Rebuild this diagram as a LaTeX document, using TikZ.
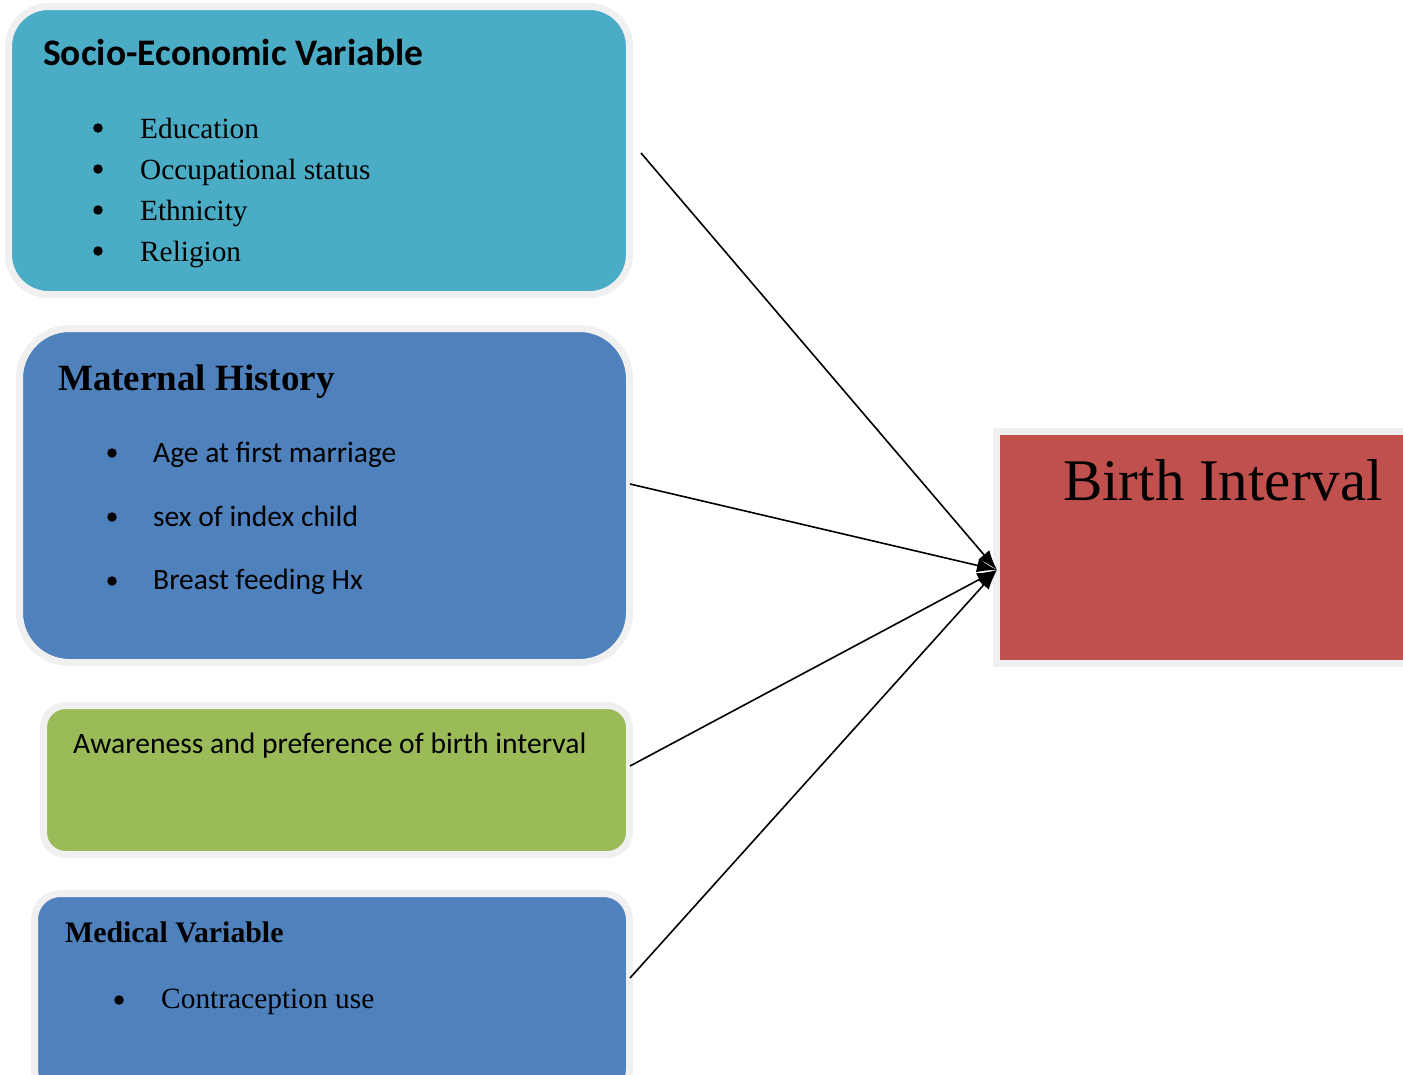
\documentclass[tikz,border=0pt]{standalone}
\usepackage{fontspec}
\setmainfont{Liberation Serif}
\newfontfamily\calibri{Carlito}
\usetikzlibrary{arrows.meta}

\definecolor{sociocol}{HTML}{4BACC6}
\definecolor{bluecol}{HTML}{4F81BD}
\definecolor{greencol}{HTML}{9BBB59}
\definecolor{redcol}{HTML}{C0504D}
\definecolor{rimcol}{HTML}{F0F0F0}

\tikzset{
  varbox/.style={draw=rimcol, line width=7pt, inner sep=0pt},
  txt/.style={anchor=base west, inner sep=0pt},
  dot/.style={circle, fill=black, inner sep=0pt, minimum size=9.5pt},
  link/.style={line width=1.6pt, -{Latex[length=20pt,width=14pt]}}
}

\begin{document}
\begin{tikzpicture}[x=1pt,y=-1pt]
  \useasboundingbox (0,0) rectangle (1403,1074);

  % boxes
  \node[varbox, fill=sociocol, rounded corners=40pt, minimum width=621pt, minimum height=288pt] (socio) at (319,150.5) {};
  \node[varbox, fill=bluecol, rounded corners=50pt, minimum width=610pt, minimum height=334pt] (maternal) at (324.5,495.5) {};
  \node[varbox, fill=greencol, rounded corners=22pt, minimum width=586pt, minimum height=149pt] (aware) at (336.5,780) {};
  \node[varbox, fill=bluecol, rounded corners=26pt, minimum width=595pt, minimum height=202pt] (medical) at (332,994.5) {};
  \node[varbox, fill=redcol, minimum width=414pt, minimum height=232pt] (birth) at (1203.5,547.5) {};

  % socio-economic
  \node[txt] (sociotitle) at (43,65) {\calibri\bfseries\fontsize{37.5}{42}\selectfont Socio-Economic Variable};
  \foreach \item [count=\i] in {Education, Occupational status, Ethnicity, Religion} {
    \node[dot] (sb\i) at (98,87+41*\i) {};
    \node[txt] (si\i) at (140,97+41*\i) {\fontsize{29.3}{34}\selectfont \item};
  }

  % maternal history
  \node[txt] (mattitle) at (58,390) {\bfseries\fontsize{37}{42}\selectfont Maternal History};
  \foreach \item [count=\i] in {Age at first marriage, sex of index child, Breast feeding Hx} {
    \node[dot] (mb\i) at (112,389+64*\i) {};
    \node[txt] (mi\i) at (153,399+63.5*\i) {\calibri\fontsize{29.5}{34}\selectfont \item};
  }

  % awareness
  \node[txt] (awaretxt) at (73,753) {\calibri\fontsize{29.6}{34}\selectfont Awareness and preference of birth interval};

  % medical
  \node[txt] (medtitle) at (65,942) {\bfseries\fontsize{29.8}{34}\selectfont Medical Variable};
  \node[dot] (medb) at (119,1000) {};
  \node[txt] (medi) at (161,1008) {\fontsize{29.4}{34}\selectfont Contraception use};

  % outcome
  \node[txt] (birthtxt) at (1063,500) {\fontsize{59}{66}\selectfont Birth Interval};

  % arrows
  \coordinate (s1) at (641,153);
  \coordinate (s2) at (630,484);
  \coordinate (s3) at (630,766);
  \coordinate (s4) at (630,978);
  \coordinate (hub) at (997,570);
  \foreach \c in {s1,s2,s3,s4}
    \draw[link] (\c) -- (hub);
\end{tikzpicture}
\end{document}
